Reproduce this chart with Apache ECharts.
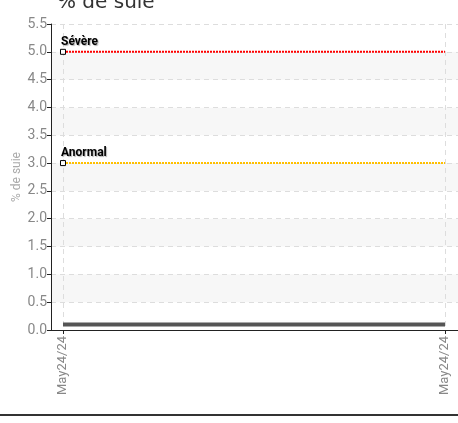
<!DOCTYPE html>
<html>
<head>
<meta charset="utf-8">
<script src="https://cdn.jsdelivr.net/npm/echarts@6/dist/echarts.min.js"></script>
<style>html,body{margin:0;padding:0;background:#fff}#c{width:458px;height:423px}</style>
</head>
<body>
<div id="c"></div>
<script>
var categories = ['May24/24', 'May24/24'];
var sootValues = [0.1, 0.1];
var severeValues = [5.0, 5.0];
var abnormalValues = [3.0, 3.0];
var yTicks = [0, 0.5, 1, 1.5, 2, 2.5, 3, 3.5, 4, 4.5, 5, 5.5];

var F = 'Roboto, sans-serif';
function pts(vals, markFirst) {
  return vals.map(function (v, i) {
    var d = { value: [i, v] };
    if (markFirst && i > 0) { d.symbol = 'none'; d.label = { show: false }; }
    return d;
  });
}
var chart = echarts.init(document.getElementById('c'));
chart.setOption({
  animation: false,
  title: { text: '% de suie', left: 52, top: -12, textStyle: { fontSize: 20, fontWeight: 'normal', color: '#333', fontFamily: '"DejaVu Sans", sans-serif' } },
  grid: { left: 51, right: 0, top: 24, bottom: 93 },
  xAxis: {
    type: 'value', min: -0.0314, max: 1.034,
    axisLine: { show: true, onZero: false, lineStyle: { color: '#222' } },
    axisTick: { show: true, customValues: [0, 1], length: 4, lineStyle: { color: '#222' } },
    axisLabel: { customValues: [0, 1], rotate: 90, color: '#888', fontSize: 13, fontFamily: F, margin: 6,
      formatter: function (v) { return categories[Math.round(v)]; } },
    splitLine: { show: true, lineStyle: { type: [5, 4], color: '#ddd' } }
  },
  yAxis: {
    type: 'value', min: 0, max: 5.5, interval: 0.5,
    name: '% de suie', nameLocation: 'middle', nameGap: 28, nameRotate: 90, nameMoveOverlap: false,
    nameTextStyle: { color: '#aaa', fontSize: 12, fontFamily: F },
    axisLine: { show: true, onZero: false, lineStyle: { color: '#222' } },
    axisTick: { show: true, length: 4, lineStyle: { color: '#222' } },
    axisLabel: { color: '#888', fontSize: 14, fontFamily: F, margin: 4, formatter: function (v) { return v.toFixed(1); } },
    splitLine: { show: true, lineStyle: { type: [5, 4], color: '#ddd' } },
    splitArea: { show: true, areaStyle: { color: ['#ffffff', '#f7f7f7'] } }
  },
  series: [
    { type: 'line', data: pts(sootValues, false), symbol: 'none', lineStyle: { color: '#555', width: 4 }, z: 3 },
    { type: 'line', data: pts(severeValues, true), symbol: 'rect', symbolSize: 5,
      itemStyle: { color: '#fff', borderColor: '#000', borderWidth: 1 },
      lineStyle: { color: '#ff0000', width: 2, type: [2, 1] },
      label: { show: true, formatter: 'Sévère', position: [1, -13], color: '#000', fontSize: 12, fontWeight: 'bold', fontFamily: F,
        textShadowColor: 'rgba(0,0,0,0.3)', textShadowBlur: 1, textShadowOffsetX: 1, textShadowOffsetY: 1 }, z: 4 },
    { type: 'line', data: pts(abnormalValues, true), symbol: 'rect', symbolSize: 5,
      itemStyle: { color: '#fff', borderColor: '#000', borderWidth: 1 },
      lineStyle: { color: '#ffc000', width: 2, type: [2, 1] },
      label: { show: true, formatter: 'Anormal', position: [1, -13], color: '#000', fontSize: 12, fontWeight: 'bold', fontFamily: F,
        textShadowColor: 'rgba(0,0,0,0.3)', textShadowBlur: 1, textShadowOffsetX: 1, textShadowOffsetY: 1 }, z: 4 }
  ],
  graphic: [{ type: 'rect', shape: { x: 0, y: 414, width: 458, height: 2 }, style: { fill: '#333' } }]
});
</script>
</body>
</html>
